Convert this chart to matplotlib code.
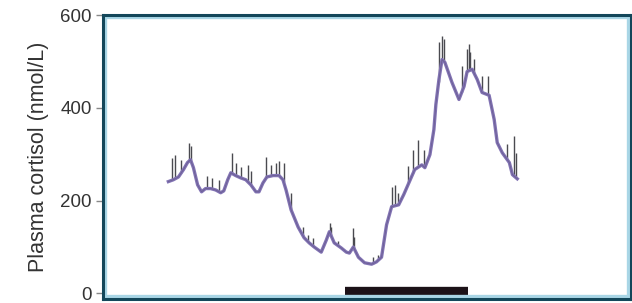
import numpy as np
import matplotlib.pyplot as plt
from matplotlib.patches import Rectangle

# horas (eixo sem rótulos) e cortisol plasmático suavizado
tempo = [2.97, 3.20, 3.43, 3.66, 3.84, 3.98, 4.11, 4.30, 4.48, 4.66, 4.89, 5.12,
         5.35, 5.49, 5.67, 5.81, 6.03, 6.26, 6.49, 6.72, 6.95, 7.09, 7.27, 7.45,
         7.73, 8.00, 8.18, 8.32, 8.55, 8.87, 9.14, 9.37, 9.60, 9.92, 10.15, 10.29,
         10.51, 10.83, 11.06, 11.20, 11.38, 11.61, 11.89, 12.21, 12.43, 12.66,
         12.89, 13.12, 13.44, 13.67, 13.90, 14.17, 14.49, 14.63, 14.86, 15.04,
         15.13, 15.27, 15.41, 15.54, 15.86, 16.18, 16.41, 16.55, 16.78, 17.01,
         17.23, 17.55, 17.78, 17.92, 18.15, 18.47, 18.61, 18.83]
cortisol = [241, 245, 251, 267, 282, 288, 271, 234, 219, 226, 226, 223,
            217, 221, 245, 260, 254, 249, 245, 234, 219, 219, 238, 251,
            254, 254, 245, 223, 180, 143, 120, 109, 100, 89, 115, 133,
            109, 98, 89, 87, 100, 78, 66, 63, 68, 78,
            148, 187, 191, 213, 238, 267, 277, 271, 299, 353,
            407, 461, 504, 498, 455, 418, 446, 478, 483, 461,
            433, 427, 375, 325, 303, 282, 256, 247]

# pulsos (amostras individuais): tempo, topo e base
pulso_t = [3.14, 3.29, 3.55, 3.90, 3.98, 4.74, 4.97, 5.27, 5.88, 6.03, 6.26,
           6.57, 6.72, 7.41, 7.63, 7.86, 8.01, 8.23, 8.55, 9.08, 9.31, 9.54,
           10.30, 10.38, 10.68, 11.37, 11.43, 12.28, 12.51, 13.12, 13.27, 13.43,
           13.88, 14.11, 14.34, 14.57, 15.25, 15.41, 15.48, 16.32, 16.55, 16.63,
           16.70, 16.85, 17.23, 17.51, 18.38, 18.68, 18.79]
pulso_topo = [292, 299, 288, 325, 317, 252, 249, 245, 303, 282, 273,
              277, 263, 295, 277, 281, 285, 282, 217, 144, 126, 120,
              151, 144, 112, 141, 122, 79, 83, 230, 234, 217,
              274, 310, 331, 310, 541, 555, 548, 490, 526, 537,
              520, 505, 468, 468, 321, 339, 303]
pulso_base = [247, 249, 259, 285, 288, 226, 225, 219, 258, 254, 249,
              243, 234, 249, 253, 254, 253, 240, 180, 124, 111, 102,
              133, 125, 103, 99, 96, 64, 71, 187, 189, 191,
              237, 260, 272, 274, 455, 504, 501, 435, 478, 480,
              482, 476, 433, 428, 287, 254, 249]

# período de sono
sono_inicio = 11.02
sono_fim = 16.59

y_ticks = [0, 200, 400, 600]

fig = plt.figure(figsize=(6.32, 3.03), dpi=100)
ax = fig.add_axes([103 / 632, 4 / 303, 528 / 632, 284 / 303])

ax.vlines(pulso_t, pulso_base, pulso_topo, colors='#4a4a50', linewidth=1.0, zorder=2)
ax.plot(tempo, cortisol, color='#8273b4', linewidth=2.4, zorder=3,
        solid_joinstyle='round')
ax.plot(tempo, cortisol, color='#5a4f7a', linewidth=0.7, alpha=0.5, zorder=4)

ax.plot([sono_inicio, sono_fim], [4.5, 4.5], color='#1c1218', linewidth=6,
        solid_capstyle='butt', zorder=5)

ax.set_xlim(0, 24)
ax.set_ylim(-12, 600)
ax.set_xticks([])
ax.set_yticks(y_ticks)
ax.tick_params(axis='y', length=5, width=1, color='#888888', labelcolor='#333333',
               labelsize=13.5, pad=3)
for lbl in ax.get_yticklabels():
    lbl.set_family('Liberation Sans')

ax.set_ylabel('Plasma cortisol (nmol/L)', fontsize=15.5, color='#333333',
              family='Liberation Sans', labelpad=8)

# moldura: borda escura + faixa azul clara interna
for s in ax.spines.values():
    s.set_color('#13475a')
    s.set_linewidth(2.2)
    s.set_zorder(7)
ax.add_patch(Rectangle((0, 0), 1, 1, transform=ax.transAxes, fill=False,
                       edgecolor='#a9d6e6', linewidth=6, zorder=6, clip_on=True))

fig.savefig('out.png', dpi=100)
